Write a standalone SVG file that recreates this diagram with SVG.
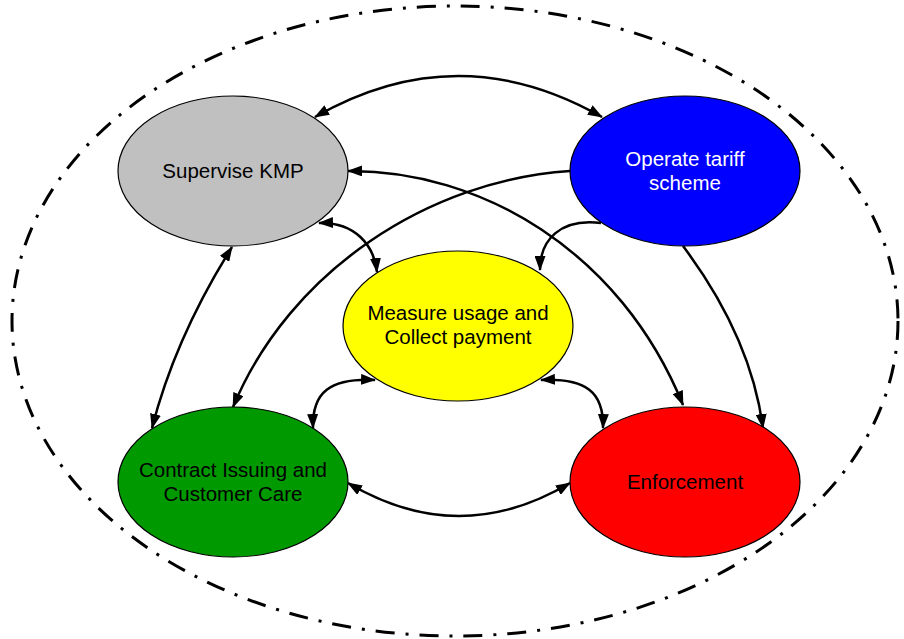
<svg xmlns="http://www.w3.org/2000/svg" width="904" height="639" viewBox="0 0 904 639">
<style>
.node{stroke:#000;stroke-width:1.2}
.lbl{font-family:"Liberation Sans",Arial,sans-serif;font-size:20.5px;text-anchor:middle;fill:#000}
.con{fill:none;stroke:#000;stroke-width:2.5}
.boundary{fill:none;stroke:#000;stroke-width:3;stroke-dasharray:19 11 3 11}
</style>
<defs>
<marker id="ah" markerUnits="userSpaceOnUse" markerWidth="15" markerHeight="11" viewBox="0 0 15 11" refX="14" refY="5.5" orient="auto-start-reverse">
<path d="M0,0 L15,5.5 L0,11 z" fill="#000"/>
</marker>
</defs>
<rect width="904" height="639" fill="#fff"/>
<ellipse class="boundary" cx="455" cy="321" rx="443" ry="315"/>
<g id="connectors">
<path class="con" d="M315,117 Q458,35 602,117" marker-start="url(#ah)" marker-end="url(#ah)"/>
<path class="con" d="M570,171 C430,180 290,270 233,407" marker-end="url(#ah)"/>
<path class="con" d="M348,171 C480,170 620,250 683,405" marker-start="url(#ah)" marker-end="url(#ah)"/>
<path class="con" d="M683,246 C710,282 752,345 763,428" marker-end="url(#ah)"/>
<path class="con" d="M601,223 C560,218 540,240 540,270" marker-end="url(#ah)"/>
<path class="con" d="M319,223 C355,222 374,245 377,272" marker-start="url(#ah)" marker-end="url(#ah)"/>
<path class="con" d="M232,247 Q175,338 152,428" marker-start="url(#ah)" marker-end="url(#ah)"/>
<path class="con" d="M375,380 C330,378 312,392 313,428" marker-start="url(#ah)" marker-end="url(#ah)"/>
<path class="con" d="M541,380 C586,378 604,392 603,428" marker-start="url(#ah)" marker-end="url(#ah)"/>
<path class="con" d="M348,483 Q459,549 570,483" marker-start="url(#ah)" marker-end="url(#ah)"/>
</g>
<g id="supervise">
<ellipse class="node" cx="233" cy="171" rx="115" ry="75" fill="#C0C0C0"/>
<text class="lbl" x="233" y="178">Supervise KMP</text>
</g>
<g id="operate">
<ellipse class="node" cx="685" cy="171" rx="115" ry="75" fill="#0000FF"/>
<text class="lbl" x="685" y="166" style="fill:#fff">Operate tariff</text>
<text class="lbl" x="685" y="190" style="fill:#fff">scheme</text>
</g>
<g id="measure">
<ellipse class="node" cx="458" cy="326" rx="115" ry="75" fill="#FFFF00"/>
<text class="lbl" x="458" y="320">Measure usage and</text>
<text class="lbl" x="458" y="344">Collect payment</text>
</g>
<g id="contract">
<ellipse class="node" cx="233" cy="482" rx="115" ry="75" fill="#009900"/>
<text class="lbl" x="233" y="477">Contract Issuing and</text>
<text class="lbl" x="233" y="501">Customer Care</text>
</g>
<g id="enforcement">
<ellipse class="node" cx="685" cy="482" rx="115" ry="75" fill="#FF0000"/>
<text class="lbl" x="685" y="489">Enforcement</text>
</g>
</svg>
